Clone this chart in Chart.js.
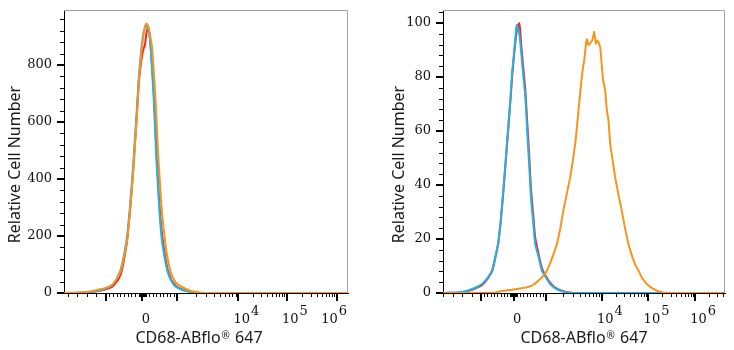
<!DOCTYPE html>
<html lang="en">
<head>
<meta charset="UTF-8">
<title>CD68-ABflo 647 histograms</title>
<script src="https://cdn.jsdelivr.net/npm/chart.js"></script>
<style>
  body { margin: 0; background: #ffffff; }
  #wrap { position: relative; width: 734px; height: 350px; }
  canvas { position: absolute; top: 0; }
  #leftChart { left: 0; }
  #rightChart { left: 367px; }
</style>
</head>
<body>
<div id="wrap">
  <canvas id="leftChart" width="367" height="350"></canvas>
  <canvas id="rightChart" width="367" height="350"></canvas>
</div>
<script>
// x values are display channels (0-1024 across the biexponential axis)

// left panel
const leftChannels = [0, 58, 94, 130, 148, 166, 177, 187, 198, 206,
  216, 227, 238, 249, 256, 263, 270, 278, 285, 292,
  297, 303, 310, 317, 325, 332, 339, 346, 353, 361,
  368, 375, 386, 397, 407, 422, 440, 462, 490, 526, 1024];
const leftRed = [0, 1, 3, 8, 12, 18, 25, 36, 52, 70,
  115, 180, 290, 425, 530, 630, 740, 810, 850, 872,
  910, 930, 895, 805, 680, 525, 395, 285, 208, 152,
  110, 78, 48, 32, 22, 14, 8, 3, 0, 0, 0];
const leftBlue = [0, 1, 3, 10, 14, 22, 30, 45, 66, 88,
  132, 195, 305, 440, 545, 650, 762, 848, 905, 930,
  936, 930, 890, 790, 655, 490, 370, 260, 185, 135,
  98, 70, 45, 28, 20, 13, 7, 2, 0, 0, 0];
const leftOrange = [0, 2, 5, 13, 17, 24, 32, 45, 62, 82,
  125, 180, 290, 420, 523, 625, 745, 830, 895, 935,
  945, 938, 905, 865, 757, 640, 495, 385, 285, 212,
  155, 115, 68, 46, 33, 23, 14, 6, 2, 0, 0];

// right panel
const rightChannels = [0, 63, 85, 106, 128, 143, 157, 168, 179, 190,
  201, 211, 222, 233, 244, 251, 259, 268, 277, 284,
  291, 299, 306, 313, 320, 328, 335, 346, 360, 375,
  389, 407, 426, 451, 480, 1024];
const rightRed = [0, 0.2, 0.6, 1.2, 2.2, 3.1, 4.6, 6.2, 8.3, 13,
  18.5, 28, 41, 55.5, 70, 80, 89, 97, 99.8, 92,
  84, 75, 63, 51, 38, 28.5, 20.5, 15, 9, 6,
  3.8, 2, 1, 0.3, 0, 0];
const rightBlue = [0, 0.3, 0.8, 1.5, 2.5, 3.4, 5, 6.5, 8.6, 13.5,
  19, 28.5, 42, 56.8, 71, 81.5, 90, 99.2, 96, 89,
  81, 72.5, 59.5, 47.2, 34.8, 25.7, 18.2, 13.8, 8.1, 5.6,
  3.3, 1.8, 0.85, 0.2, 0, 0];
const rightOrangeChannels = [0, 135, 190, 219, 251, 280, 306, 328, 346, 360,
  375, 389, 400, 414, 426, 437, 447, 462, 473, 480,
  484, 492, 498, 504, 509, 513, 520, 523, 528, 534,
  542, 549, 555, 560, 564, 571, 576, 581, 589, 595,
  601, 607, 616, 625, 636, 649, 658, 665, 673, 687,
  698, 710, 723, 740, 756, 776, 799, 825, 1024];
const rightOrange = [0, 0, 0.2, 0.8, 1.2, 1.7, 2.1, 3, 4.5, 5.9,
  7.8, 11, 14, 18.2, 24, 30.5, 35.5, 42.9, 50, 55.3,
  59, 67.6, 74, 80, 84, 86.2, 93, 94, 91.8, 92.4,
  93.5, 96.7, 92.4, 93.5, 93, 91.1, 85, 79, 75, 67.6,
  63.9, 55.3, 49, 42.9, 37, 30.5, 25.6, 22, 18.2, 13.5,
  10.5, 8.3, 5.5, 3.3, 2, 0.85, 0.2, 0, 0];

// axes
const leftYTicks = [0, 200, 400, 600, 800];
const rightYTicks = [0, 20, 40, 60, 80, 100];
const xMajorTickValues = [-1e3, 0, 1e3, 1e4, 1e5, 1e6];
const xTickLabelValues = [0, 1e4, 1e5, 1e6];
const xTickLabels = ['0', '10', '10', '10'];
const xTickExponents = ['', '4', '5', '6'];
// channel of -10^3, 0, 10^3, 10^4, 10^5, 10^6 on each panel
const leftAxisAnchors = [150.4, 282.3, 408.5, 628.5, 803, 983.3];
const rightAxisAnchors = [137.8, 256.3, 374.7, 576.8, 745.8, 915.2];

const yTitle = 'Relative Cell Number';

const RED = '#ff1f1f', BLUE = '#1eb4e6', ORANGE = '#f7941d';

// value -> display channel (linear near zero, log per decade above 10^3)
function toChannel(v, a) {
  const [neg, zero, d3] = a;
  if (v >= 0 && v <= 1000) return zero + (d3 - zero) * v / 1000;
  if (v < 0 && v >= -1000) return zero + (zero - neg) * v / 1000;
  if (v < -1000) return neg - 34 * (-v - 1000) / 1000;
  const decs = a.slice(2);
  const e = Math.log10(v) - 3;
  const k = Math.min(Math.floor(e), decs.length - 2);
  return decs[k] + (decs[k + 1] - decs[k]) * (e - k);
}

const xMinorTickValues = [];
for (let m = 1; m <= 9; m++) xMinorTickValues.push(m * 10, -m * 10, m * 100, -m * 100);
for (let m = 2; m <= 5; m++) xMinorTickValues.push(-m * 1000);
for (let p = 3; p <= 6; p++) {
  for (let m = 2; m <= 9; m++) xMinorTickValues.push(m * Math.pow(10, p));
}

function makeAxesPlugin(cfg) {
  return {
    id: 'flowAxes',
    beforeDatasetsDraw(chart) {
      const { ctx, chartArea: a } = chart;
      ctx.save();
      ctx.strokeStyle = '#a3a3a3';
      ctx.lineWidth = 1;
      ctx.beginPath();
      ctx.moveTo(a.left, Math.round(a.top) + 0.5);
      ctx.lineTo(Math.round(a.right) - 0.5, Math.round(a.top) + 0.5);
      ctx.lineTo(Math.round(a.right) - 0.5, a.bottom);
      ctx.stroke();
      ctx.restore();
    },
    afterDraw(chart) {
      const { ctx, chartArea: a } = chart;
      const xs = chart.scales.x, ys = chart.scales.y;
      const bottom = Math.round(a.bottom);
      const left = Math.round(a.left);
      ctx.save();
      ctx.fillStyle = '#000';

      // x tick marks
      xMinorTickValues.forEach(v => {
        const c = toChannel(v, cfg.anchors);
        if (c < 0 || c > 1024) return;
        ctx.fillRect(Math.round(xs.getPixelForValue(c)), bottom, 1, 4);
      });
      xMajorTickValues.forEach(v => {
        const c = toChannel(v, cfg.anchors);
        ctx.fillRect(Math.round(xs.getPixelForValue(c)) - 1, bottom, 2, 8);
      });

      // y tick marks
      for (let i = 0; i * cfg.yMinorStep <= ys.max; i++) {
        const p = Math.round(ys.getPixelForValue(i * cfg.yMinorStep));
        ctx.fillRect(left - 4, p, 4, 1);
      }
      cfg.yTicks.forEach(v => {
        const p = Math.round(ys.getPixelForValue(v));
        ctx.fillRect(left - 7, p - 1, 7, 2);
      });

      // x tick labels with raised exponent
      ctx.fillStyle = '#111';
      ctx.font = '13px "DejaVu Serif"';
      ctx.textBaseline = 'alphabetic';
      ctx.textAlign = 'left';
      xTickLabelValues.forEach((v, i) => {
        const px = xs.getPixelForValue(toChannel(v, cfg.anchors)) + 3.5;
        const wb = ctx.measureText(xTickLabels[i]).width;
        const we = xTickExponents[i] ? ctx.measureText(xTickExponents[i]).width + 1 : 0;
        let start = px - wb / 2;
        const end = start + wb + we;
        if (end > a.right - 1) start -= end - (a.right - 1);
        ctx.fillText(xTickLabels[i], start, 322.5);
        if (xTickExponents[i]) ctx.fillText(xTickExponents[i], start + wb + 1, 315);
      });

      // axis titles
      ctx.fillStyle = '#1a1a1a';
      ctx.font = '16px "Noto Sans"';
      ctx.save();
      ctx.translate(cfg.yTitleX, 164.5);
      ctx.rotate(-Math.PI / 2);
      ctx.textAlign = 'center';
      ctx.textBaseline = 'middle';
      ctx.fillText(yTitle, 0, 0);
      ctx.restore();

      const t1 = 'CD68-ABflo', t2 = '\u00AE', t3 = ' 647';
      ctx.font = '16px "Noto Sans"';
      const w1 = ctx.measureText(t1).width, w3 = ctx.measureText(t3).width;
      ctx.font = '10px "Noto Sans"';
      const w2 = ctx.measureText(t2).width;
      let tx = cfg.xTitleX - (w1 + w2 + w3 + 2) / 2;
      ctx.textAlign = 'left';
      ctx.textBaseline = 'alphabetic';
      ctx.font = '16px "Noto Sans"';
      ctx.fillText(t1, tx, 343);
      tx += w1 + 1;
      ctx.font = '10px "Noto Sans"';
      ctx.fillText(t2, tx, 338.5);
      tx += w2 + 1;
      ctx.font = '16px "Noto Sans"';
      ctx.fillText(t3, tx, 343);
      ctx.restore();
    }
  };
}

function series(xs, ys, color, order, tension) {
  return {
    data: xs.map((x, i) => ({ x: x, y: ys[i] })),
    borderColor: color,
    borderWidth: 2,
    pointRadius: 0,
    fill: false,
    tension: tension,
    borderJoinStyle: 'round',
    order: order
  };
}

function buildPanel(id, cfg, datasets) {
  return new Chart(document.getElementById(id), {
    type: 'line',
    data: { datasets: datasets },
    options: {
      responsive: false,
      animation: false,
      devicePixelRatio: 1,
      layout: { padding: { left: 0, right: cfg.padRight, top: 10, bottom: 0 } },
      plugins: { legend: { display: false }, tooltip: { enabled: false } },
      scales: {
        x: {
          type: 'linear',
          min: 0,
          max: 1024,
          grid: { display: false, drawTicks: false },
          border: { display: true, color: '#000', width: 1 },
          ticks: { display: false },
          afterFit: s => { s.height = 57; s.paddingLeft = 0; s.paddingRight = 0; }
        },
        y: {
          type: 'linear',
          min: 0,
          max: cfg.yMax,
          grid: { display: false, drawTicks: false },
          border: { display: true, color: '#000', width: 1 },
          ticks: {
            padding: 12,
            color: '#111',
            font: { family: 'DejaVu Serif', size: 13 }
          },
          afterBuildTicks: s => { s.ticks = cfg.yTicks.map(v => ({ value: v })); },
          afterFit: s => { s.width = cfg.yWidth; s.paddingTop = 0; s.paddingBottom = 0; }
        }
      }
    },
    plugins: [makeAxesPlugin(cfg)]
  });
}

buildPanel('leftChart', {
  anchors: leftAxisAnchors, yTicks: leftYTicks, yMinorStep: 40, yMax: 993,
  yWidth: 64, padRight: 19, yTitleX: 15, xTitleX: 199
}, [
  series(leftChannels, leftRed, RED, 2, 0.3),
  series(leftChannels, leftBlue, BLUE, 1, 0.3),
  series(leftChannels, leftOrange, ORANGE, 0, 0.3)
]);

buildPanel('rightChart', {
  anchors: rightAxisAnchors, yTicks: rightYTicks, yMinorStep: 4, yMax: 104.8,
  yWidth: 76, padRight: 9, yTitleX: 32, xTitleX: 217
}, [
  series(rightChannels, rightRed, RED, 2, 0.3),
  series(rightChannels, rightBlue, BLUE, 1, 0.3),
  series(rightOrangeChannels, rightOrange, ORANGE, 0, 0)
]);
</script>
</body>
</html>
